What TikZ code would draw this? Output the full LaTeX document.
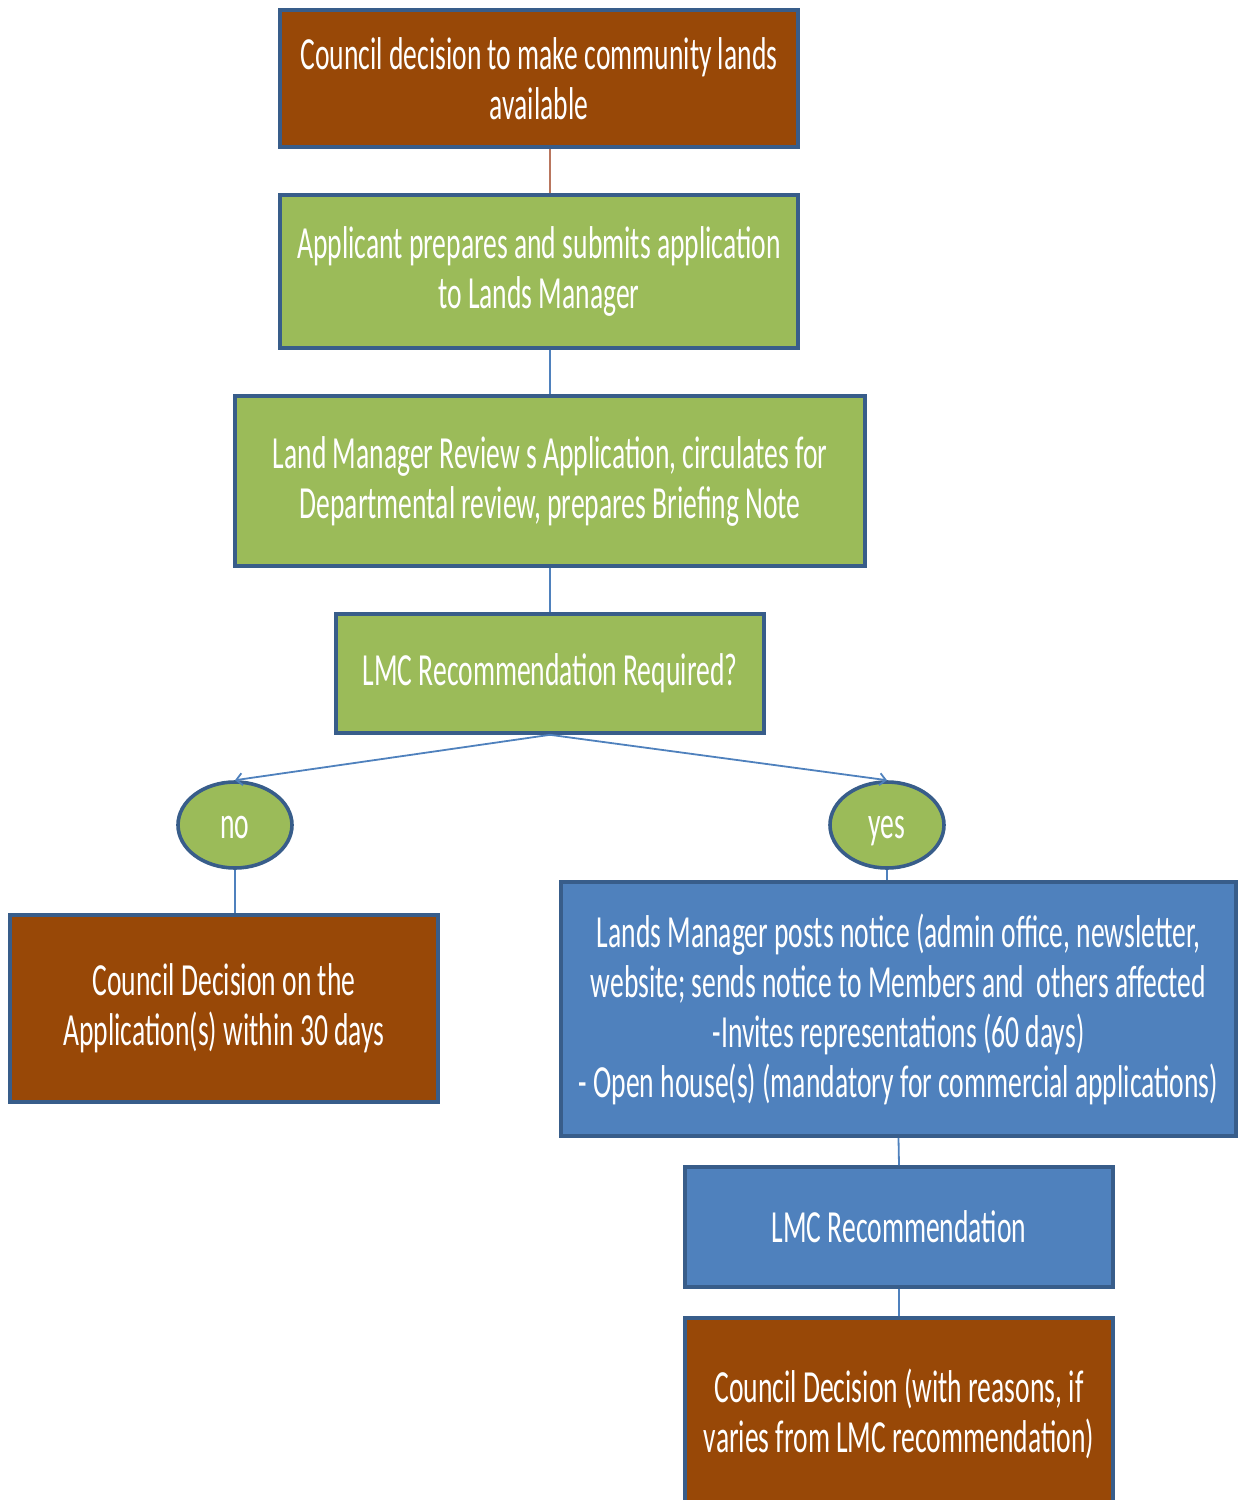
\documentclass[tikz,border=0pt]{standalone}
\usepackage{fontspec}
\setmainfont[FakeStretch=0.60]{Carlito}
\usetikzlibrary{shapes.geometric,arrows.meta}
\definecolor{cbrown}{HTML}{984807}
\definecolor{cgreen}{HTML}{9BBB59}
\definecolor{cblue}{HTML}{4F81BD}
\definecolor{cborder}{HTML}{385D8A}
\definecolor{cpink}{HTML}{B9765E}
\tikzset{
  box/.style={draw=cborder, line width=1.8pt, text=white, align=center, inner sep=0pt,
    font=\fontsize{23}{25}\selectfont},
  brownbox/.style={box, fill=cbrown},
  greenbox/.style={box, fill=cgreen},
  bluebox/.style={box, fill=cblue},
  oval/.style={ellipse, draw=cborder, line width=1.8pt, fill=cgreen, text=white, inner sep=0pt,
    text height=15pt, text depth=2pt, font=\fontsize{23}{25}\selectfont},
  link/.style={draw=cblue, line width=0.9pt},
  blink/.style={draw=cpink, line width=0.9pt},
  alink/.style={link, -{Straight Barb[length=3pt,width=6pt]}}
}
\begin{document}
\begin{tikzpicture}[x=0.5pt,y=-0.5pt]
\useasboundingbox (0,0) rectangle (1238,1500);
\node[brownbox, minimum width=259pt, minimum height=68.5pt] (b1) at (539,78.5)
  {Council decision to make community lands\\available};
\node[greenbox, minimum width=259pt, minimum height=76.5pt] (b2) at (539,271.5)
  {Applicant prepares and submits application\\to Lands Manager};
\node[greenbox, minimum width=315pt, minimum height=85pt] (b3) at (550,481)
  {Land Manager Review s Application, circulates for\\Departmental review, prepares Briefing Note};
\node[greenbox, minimum width=214pt, minimum height=59.5pt] (b4) at (550,673.5)
  {LMC Recommendation Required?};
\node[oval, minimum width=57pt, minimum height=43pt] (no) at (235,825) {no};
\node[oval, minimum width=57pt, minimum height=43pt] (yes) at (887,825) {yes};
\node[brownbox, minimum width=214pt, minimum height=93.5pt] (b5) at (224,1008.5)
  {Council Decision on the\\Application(s) within 30 days};
\node[bluebox, minimum width=337.5pt, minimum height=127pt] (b6) at (898.5,1009)
  {Lands Manager posts notice (admin office, newsletter,\\website; sends notice to Members and\ \ others affected\\-Invites representations (60 days)\\- Open house(s) (mandatory for commercial applications)};
\node[bluebox, minimum width=214pt, minimum height=60pt] (b7) at (899,1227)
  {LMC Recommendation};
\node[brownbox, minimum width=214pt, minimum height=96pt] (b8) at (899,1414)
  {Council Decision (with reasons, if\\varies from LMC recommendation)};
\draw[blink] (b1.south -| 550,0) -- (b2.north -| 550,0);
\draw[link] (b2.south -| 550,0) -- (b3.north -| 550,0);
\draw[link] (b3.south) -- (b4.north);
\draw[alink] (b4.south) -- (no.north);
\draw[alink] (b4.south) -- (yes.north);
\draw[link] (no.south) -- (no.south |- b5.north);
\draw[link] (yes.south) -- (yes.south |- b6.north);
\draw[link] (b6.south) -- (b7.north);
\draw[link] (b7.south) -- (b8.north);
\end{tikzpicture}
\end{document}
